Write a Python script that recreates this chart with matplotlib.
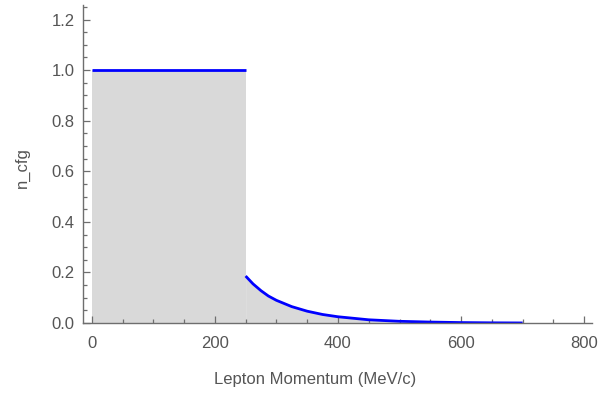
import numpy as np
import matplotlib
matplotlib.use("Agg")
import matplotlib.pyplot as plt
from matplotlib.ticker import MultipleLocator

# flat part
flat_x = [0, 250]
flat_y = [1.0, 1.0]
# tail after the cut
tail_x = [250, 262, 275, 287, 300, 325, 350, 375, 400, 450, 500, 550, 600, 650, 700]
tail_y = [0.186, 0.155, 0.128, 0.107, 0.090, 0.065, 0.047, 0.034, 0.025,
          0.013, 0.007, 0.004, 0.002, 0.001, 0.0005]

xticks = [0, 200, 400, 600, 800]
yticks = [0.0, 0.2, 0.4, 0.6, 0.8, 1.0, 1.2]

plt.rcParams['font.family'] = ['Liberation Sans', 'DejaVu Sans']

fig = plt.figure(figsize=(6, 3.94), dpi=100)
ax = fig.add_axes([0.138, 0.180, 0.849, 0.807])

gray = '#d9d9d9'
ax.fill_between(flat_x, 0, flat_y, color=gray, lw=0)
ax.fill_between(tail_x, 0, tail_y, color=gray, lw=0)
ax.plot(flat_x, flat_y, color='#0000ff', lw=2.0, solid_capstyle='butt')
ax.plot(tail_x, tail_y, color='#0000ff', lw=2.0, solid_capstyle='butt')

ax.set_xlim(-14.5, 813)
ax.set_ylim(0, 1.257)
ax.set_xticks(xticks)
ax.set_yticks(yticks)
ax.set_yticklabels([f'{v:.1f}' for v in yticks])
ax.xaxis.set_minor_locator(MultipleLocator(50))
ax.yaxis.set_minor_locator(MultipleLocator(0.05))

axis_col = '#6e6e6e'
for s in ['top', 'right']:
    ax.spines[s].set_visible(False)
for s in ['left', 'bottom']:
    ax.spines[s].set_color(axis_col)
    ax.spines[s].set_linewidth(1.0)

ax.tick_params(which='both', direction='in', color=axis_col, labelcolor='#555555',
               labelsize=12, width=0.9)
ax.tick_params(which='major', length=5)
ax.tick_params(axis='y', which='major', pad=6)
ax.tick_params(axis='x', which='major', pad=9)
ax.tick_params(which='minor', length=3)

ax.set_xlabel('Lepton Momentum (MeV/c)', fontsize=12, color='#555555')
ax.set_ylabel('n_cfg', fontsize=12, color='#555555')
ax.xaxis.set_label_coords(0.456, -0.155)
ax.yaxis.set_label_coords(-0.104, 0.49)

fig.savefig('out.png', dpi=100)
